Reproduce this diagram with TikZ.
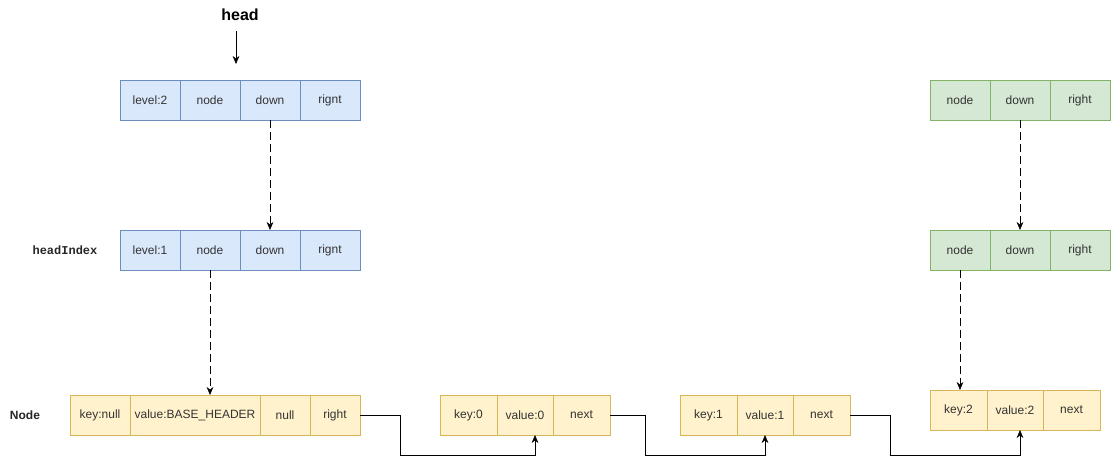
\documentclass[tikz,border=0pt]{standalone}
\usepackage{fontspec}
\setmainfont{Liberation Sans}
\newfontfamily\codefont{Liberation Mono}
\usetikzlibrary{arrows.meta,positioning,calc}
\definecolor{lvfill}{HTML}{DAE8FC}
\definecolor{lvline}{HTML}{6C8EBF}
\definecolor{idxfill}{HTML}{D5E8D4}
\definecolor{idxline}{HTML}{82B366}
\definecolor{kvfill}{HTML}{FFF2CC}
\definecolor{kvline}{HTML}{D6B656}
\tikzset{
  cell/.style={draw,minimum height=30pt,inner sep=0pt,outer sep=0pt,font=\fontsize{9}{10}\selectfont,text=black!80,anchor=west},
  cw/.style={minimum width=#1*0.75pt},
  lv/.style={cell,cw=60,draw=lvline,fill=lvfill},
  idx/.style={cell,cw=60,draw=idxline,fill=idxfill},
  kv/.style={cell,draw=kvline,fill=kvfill},
  arr/.style={-{Stealth[length=6pt,width=5pt]},thin},
  dasharr/.style={arr,dash pattern=on 6pt off 3pt},
  lbl/.style={font=\bfseries\fontsize{9}{10}\selectfont,text=black!85}
}
\begin{document}
\begin{tikzpicture}[x=0.75pt,y=-0.75pt]
\useasboundingbox (0,0) rectangle (1111,464);
% head index, level 2
\node[lv] (ta) at (120,100) {level:2};
\node[lv,right=0pt of ta] (tb) {node};
\node[lv,right=0pt of tb] (tc) {down};
\node[lv,right=0pt of tc] (td) {rignt};
% head index, level 1
\node[lv] (ma) at (120,250) {level:1};
\node[lv,right=0pt of ma] (mb) {node};
\node[lv,right=0pt of mb] (mc) {down};
\node[lv,right=0pt of mc] (md) {rignt};
% index of key 2
\node[idx] (ga) at (930,100) {node};
\node[idx,right=0pt of ga] (gb) {down};
\node[idx,right=0pt of gb] (gc) {right};
\node[idx] (ha) at (930,250) {node};
\node[idx,right=0pt of ha] (hb) {down};
\node[idx,right=0pt of hb] (hc) {right};
% base nodes
\node[kv,cw=60] (bk) at (70,415) {key:null};
\node[kv,cw=130,right=0pt of bk] (bv) {value:BASE\_HEADER};
\node[kv,cw=50,right=0pt of bv] (bn) {null};
\node[kv,cw=50,right=0pt of bn] (br) {right};
\node[kv,cw=57] (k0) at (440,415) {key:0};
\node[kv,cw=56,right=0pt of k0] (v0) {value:0};
\node[kv,cw=57,right=0pt of v0] (n0) {next};
\node[kv,cw=57] (k1) at (680,415) {key:1};
\node[kv,cw=56,right=0pt of k1] (v1) {value:1};
\node[kv,cw=57,right=0pt of v1] (n1) {next};
\node[kv,cw=57] (k2) at (930,410) {key:2};
\node[kv,cw=56,right=0pt of k2] (v2) {value:2};
\node[kv,cw=57,right=0pt of v2] (n2) {next};
% side labels
\node[font=\bfseries\fontsize{12}{14}\selectfont] (head) at (240,15) {head};
\node[lbl,font=\codefont\bfseries\fontsize{9}{10}\selectfont] (hidx) at (65,250) {headIndex};
\node[lbl] (nlbl) at (25,415) {Node};
% links
\coordinate (htip) at (236,64);
\draw[arr] (htip |- 0,31) -- (htip);
\draw[dasharr] (tc.south) -- (tc.south |- mc.north);
\draw[dasharr] (mb.south) -- (mb.south |- bv.north);
\draw[dasharr] (gb.south) -- (gb.south |- hb.north);
\draw[dasharr] (ha.south) -- (ha.south |- k2.north);
\draw[arr] (br.east) -- ++(40,0) -- ++(0,40) -| ($(v0.south)+(10,0)$);
\draw[arr] (n0.east) -- ++(35,0) -- ++(0,40) -| (v1.south);
\draw[arr] (n1.east) -- ++(40,0) -- ++(0,40) -| ($(v2.south)+(5,0)$);
\end{tikzpicture}
\end{document}
